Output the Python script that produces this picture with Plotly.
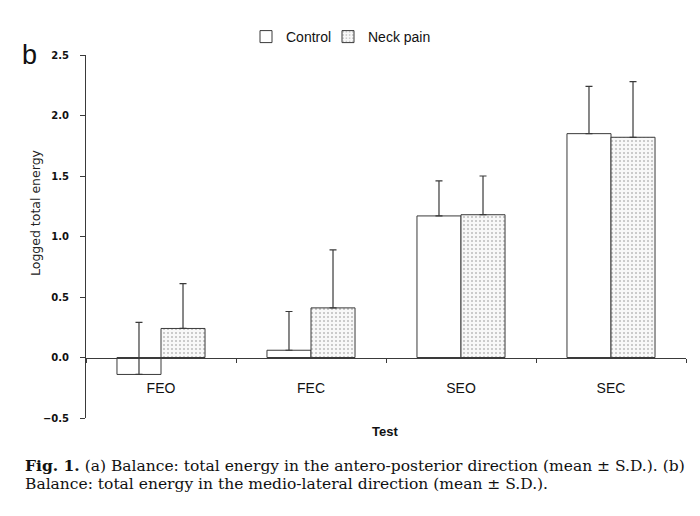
import plotly.graph_objects as go

categories = ["FEO", "FEC", "SEO", "SEC"]
control_mean = [-0.14, 0.06, 1.17, 1.85]
control_sd = [0.43, 0.32, 0.29, 0.39]
neck_mean = [0.24, 0.41, 1.18, 1.82]
neck_sd = [0.37, 0.48, 0.32, 0.46]
y_ticks = [-0.5, 0.0, 0.5, 1.0, 1.5, 2.0, 2.5]

LINE = "#3a3a3a"
W, H = 700, 516
L, R, T, B = 86, 14, 55, 98
PW, PH = W - L - R, H - T - B


def px_x(px):
    return (px - L) / PW


def px_y(py):
    return (H - B - py) / PH


fig = go.Figure()
fig.add_trace(go.Bar(
    name="Control", x=categories, y=control_mean, legend="legend",
    marker=dict(color="white", line=dict(color=LINE, width=1)),
    error_y=dict(type="data", symmetric=False, array=control_sd,
                 arrayminus=[0] * len(control_sd), color=LINE, thickness=1.2, width=3.5),
))
fig.add_trace(go.Bar(
    name="Neck pain", x=categories, y=neck_mean, legend="legend2",
    marker=dict(color="white", line=dict(color=LINE, width=1),
                pattern=dict(shape=".", fgcolor="#808080", bgcolor="#f8f8f8",
                             size=4, solidity=0.2)),
    error_y=dict(type="data", symmetric=False, array=neck_sd,
                 arrayminus=[0] * len(neck_sd), color=LINE, thickness=1.2, width=3.5),
))

legend_font = dict(size=14, family="Liberation Sans Narrow, Liberation Sans, Arial", color="#111")
ymin, ymax = -0.5, 2.5
fig.update_layout(
    width=W, height=H,
    margin=dict(l=L, r=R, t=T, b=B, autoexpand=False),
    paper_bgcolor="white", plot_bgcolor="white",
    barmode="group", bargap=0.413, bargroupgap=0,
    font=dict(family="Liberation Sans, Arial, sans-serif", color="#222"),
    showlegend=True,
    legend=dict(x=px_x(246), y=px_y(37), xanchor="left", yanchor="middle",
                font=legend_font, itemwidth=30, bgcolor="rgba(0,0,0,0)"),
    legend2=dict(x=px_x(328), y=px_y(37), xanchor="left", yanchor="middle",
                 font=legend_font, itemwidth=30, bgcolor="rgba(0,0,0,0)"),
    xaxis=dict(
        anchor="free", position=(0 - ymin) / (ymax - ymin), automargin=False,
        showline=True, linecolor=LINE, linewidth=1,
        ticks="outside", ticklen=4, tickcolor=LINE, tickson="boundaries",
        showgrid=False, zeroline=False,
        tickfont=dict(size=14, family="Liberation Sans, Arial", color="#111"),
        ticklabelstandoff=18,
    ),
    yaxis=dict(
        range=[ymin, ymax], tickvals=y_ticks, tickformat=".1f", automargin=False,
        showline=True, linecolor=LINE, linewidth=1,
        ticks="outside", ticklen=5, tickcolor=LINE,
        showgrid=False, zeroline=False,
        tickfont=dict(size=10, family="DejaVu Sans", color="#111", weight="bold"),
        ticklabelstandoff=9,
    ),
    annotations=[
        dict(text="Logged total energy", textangle=-90, x=px_x(35), y=px_y(212),
             xref="paper", yref="paper", xanchor="center", yanchor="middle",
             showarrow=False, font=dict(size=12.5, family="DejaVu Sans", color="#222")),
        dict(text="b", x=px_x(29), y=px_y(55), xref="paper", yref="paper",
             xanchor="center", yanchor="middle",
             showarrow=False, font=dict(size=27, family="Liberation Sans", color="#111")),
        dict(text="<b>Test</b>", x=px_x(385), y=px_y(431), xref="paper", yref="paper",
             xanchor="center", yanchor="middle",
             showarrow=False, font=dict(size=13, family="Liberation Sans", color="#111")),
        dict(text="<b>Fig. 1.</b> (a) Balance: total energy in the antero-posterior direction (mean \u00b1 S.D.). (b)",
             x=px_x(23), y=px_y(465), xref="paper", yref="paper", xanchor="left", yanchor="middle",
             showarrow=False, font=dict(size=15.5, family="DejaVu Serif", color="#111")),
        dict(text="Balance: total energy in the medio-lateral direction (mean \u00b1 S.D.).",
             x=px_x(23), y=px_y(484), xref="paper", yref="paper", xanchor="left", yanchor="middle",
             showarrow=False, font=dict(size=15.5, family="DejaVu Serif", color="#111")),
    ],
)

fig.write_html("out.html", config={"displayModeBar": False},
               post_script="document.body.style.margin='0';")
